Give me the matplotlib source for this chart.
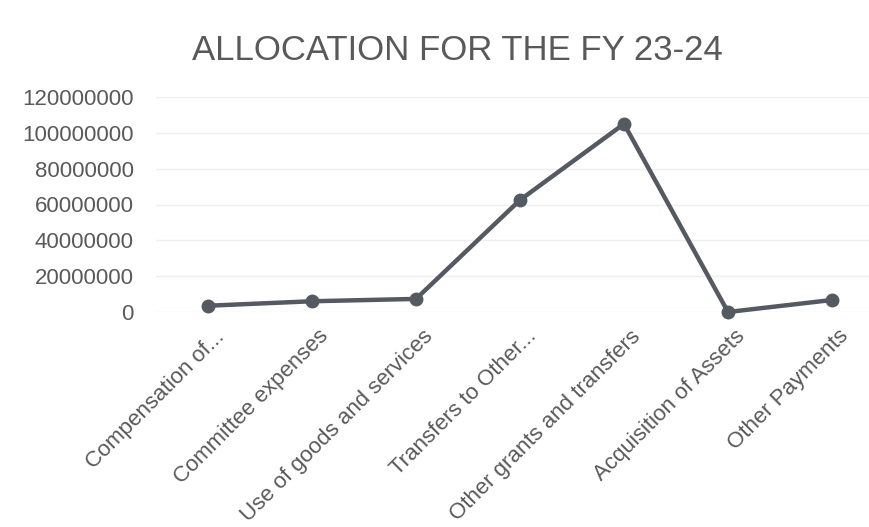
import matplotlib
matplotlib.use("Agg")
import matplotlib.pyplot as plt
import matplotlib.transforms as mtransforms

categories = [
    "Compensation of...",
    "Committee expenses",
    "Use of goods and services",
    "Transfers to Other...",
    "Other grants and transfers",
    "Acquisition of Assets",
    "Other Payments",
]
allocation = [3500000, 6000000, 7300000, 62500000, 105000000, 0, 6700000]
y_ticks = [0, 20000000, 40000000, 60000000, 80000000, 100000000, 120000000]

_TEXT = "#595959"
_LINE = "#555a62"

plt.rcParams["font.family"] = ["Liberation Sans", "DejaVu Sans"]

fig = plt.figure(figsize=(8.69, 5.27), dpi=100)
ax = fig.add_axes([156 / 869, (527 - 312) / 527, 713 / 869, 215 / 527])

x = range(len(categories))
ax.plot(x, allocation, color=_LINE, linewidth=3.2, marker="o", markersize=9,
        solid_capstyle="round", zorder=3, clip_on=False)

ax.set_xlim(-0.5, -0.5 + 713 / 104)
ax.set_ylim(0, 120000000)
ax.set_yticks(y_ticks)
ax.set_yticklabels([str(v) for v in y_ticks], fontsize=16, color=_TEXT)
ax.set_xticks(list(x))
ax.set_xticklabels(categories, rotation=45, ha="right", rotation_mode="anchor",
                   fontsize=16, color=_TEXT)
ax.tick_params(axis="y", length=0, pad=16)
ax.tick_params(axis="x", length=0, pad=10)

# nudge the rotated category labels a little to the right, as in the original
offset = mtransforms.ScaledTranslation(6 / 100, 0, fig.dpi_scale_trans)
for lbl in ax.get_xticklabels():
    lbl.set_transform(lbl.get_transform() + offset)

ax.grid(axis="y", color="#efefef", linewidth=1)
for s in ax.spines.values():
    s.set_visible(False)

fig.text(457 / 869, 1 - 50 / 527, "ALLOCATION FOR THE FY 23-24", ha="center",
         va="center", fontsize=25, color=_TEXT)

fig.savefig("out.png", dpi=100)
